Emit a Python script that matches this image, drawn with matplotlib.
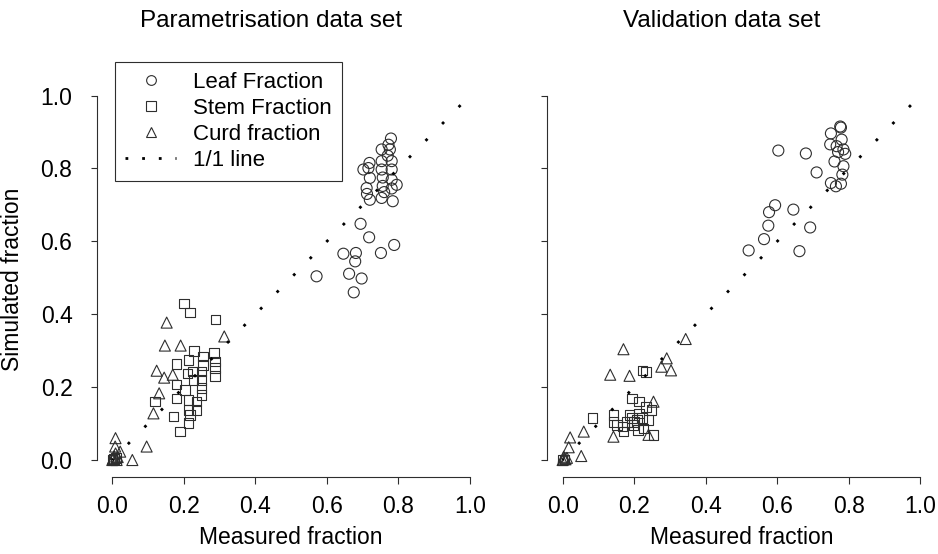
import numpy as np
import matplotlib.pyplot as plt
from matplotlib.lines import Line2D

plt.rcParams['font.family'] = ['Liberation Sans', 'DejaVu Sans']

# parametrisation data set (measured, simulated)
par_leaf_x = [0.779, 0.772, 0.753, 0.776, 0.770, 0.719, 0.753, 0.781, 0.702, 0.753,
              0.781, 0.720, 0.756, 0.781, 0.795, 0.711, 0.756, 0.781, 0.720, 0.753,
              0.784, 0.712, 0.760, 0.716,
              0.571, 0.646, 0.662, 0.675, 0.679, 0.681, 0.694, 0.697, 0.718, 0.751, 0.788]
par_leaf_y = [0.882, 0.865, 0.852, 0.852, 0.835, 0.815, 0.820, 0.820, 0.797, 0.797,
              0.797, 0.774, 0.775, 0.769, 0.755, 0.746, 0.752, 0.745, 0.714, 0.719,
              0.710, 0.730, 0.735, 0.801,
              0.504, 0.566, 0.511, 0.460, 0.545, 0.568, 0.648, 0.498, 0.611, 0.568, 0.590]

par_stem_x = [0.200, 0.217, 0.288, 0.229, 0.285, 0.180, 0.213, 0.254, 0.287, 0.287,
              0.287, 0.179, 0.225, 0.250, 0.227, 0.250, 0.203, 0.250, 0.250, 0.120,
              0.180, 0.213, 0.236, 0.213, 0.236, 0.171, 0.217, 0.213, 0.189, 0.254,
              0.210, 0.000, 0.005, 0.010]
par_stem_y = [0.429, 0.405, 0.385, 0.299, 0.293, 0.263, 0.275, 0.284, 0.270, 0.252,
              0.231, 0.207, 0.243, 0.243, 0.220, 0.220, 0.192, 0.197, 0.179, 0.160,
              0.169, 0.165, 0.160, 0.137, 0.137, 0.119, 0.124, 0.101, 0.078, 0.261,
              0.238, 0.000, 0.003, 0.005]

par_curd_x = [0.152, 0.147, 0.191, 0.313, 0.124, 0.145, 0.169, 0.131, 0.115, 0.009,
              0.008, 0.009, 0.022, 0.003, 0.012, 0.056, 0.096, 0.000, 0.005, 0.015, 0.002]
par_curd_y = [0.377, 0.314, 0.314, 0.339, 0.245, 0.226, 0.234, 0.183, 0.128, 0.060,
              0.037, 0.018, 0.023, 0.005, 0.000, 0.000, 0.037, 0.000, 0.010, 0.008, 0.002]

# validation data set
val_leaf_x = [0.776, 0.778, 0.750, 0.603, 0.680, 0.748, 0.780, 0.766, 0.785, 0.760,
              0.785, 0.710, 0.782, 0.750, 0.778, 0.764, 0.594, 0.577, 0.645, 0.575,
              0.692, 0.563, 0.520, 0.662, 0.770, 0.790]
val_leaf_y = [0.915, 0.912, 0.896, 0.849, 0.841, 0.866, 0.879, 0.861, 0.852, 0.819,
              0.806, 0.789, 0.783, 0.760, 0.758, 0.751, 0.699, 0.680, 0.687, 0.643,
              0.638, 0.606, 0.575, 0.573, 0.845, 0.840]

val_stem_x = [0.223, 0.233, 0.194, 0.214, 0.233, 0.249, 0.240, 0.254, 0.084, 0.142,
              0.142, 0.152, 0.168, 0.180, 0.194, 0.198, 0.208, 0.214, 0.222, 0.210,
              0.226, 0.170, 0.200, 0.187, 0.000, 0.005]
val_stem_y = [0.245, 0.241, 0.169, 0.160, 0.146, 0.137, 0.110, 0.069, 0.115, 0.124,
              0.105, 0.096, 0.092, 0.105, 0.115, 0.096, 0.110, 0.128, 0.115, 0.082,
              0.087, 0.078, 0.105, 0.124, 0.000, 0.002]

val_curd_x = [0.170, 0.344, 0.133, 0.187, 0.291, 0.276, 0.303, 0.254, 0.240, 0.142,
              0.059, 0.021, 0.017, 0.052, 0.003, 0.000, 0.008, 0.012, 0.004]
val_curd_y = [0.304, 0.332, 0.234, 0.231, 0.279, 0.256, 0.246, 0.160, 0.069, 0.064,
              0.078, 0.062, 0.035, 0.011, 0.009, 0.000, 0.002, 0.006, 0.004]

one_to_one = [0, 1]
ticks = [0.0, 0.2, 0.4, 0.6, 0.8, 1.0]

ink = '#2e2e2e'
fs = 16.5

fig = plt.figure(figsize=(9.38, 5.54), dpi=100)
ax1 = fig.add_axes([0.1031, 0.1395, 0.4146, 0.7144])
ax2 = fig.add_axes([0.5832, 0.1395, 0.4146, 0.7144])

panels = [
    (ax1, par_leaf_x, par_leaf_y, par_stem_x, par_stem_y, par_curd_x, par_curd_y),
    (ax2, val_leaf_x, val_leaf_y, val_stem_x, val_stem_y, val_curd_x, val_curd_y),
]

for ax, lx, ly, sx, sy, cx, cy in panels:
    ax.plot(one_to_one, one_to_one, color='black', lw=2,
            linestyle=(0.5, (1, 7.5)), zorder=3)
    ax.scatter(lx, ly, s=63, marker='o', facecolors='none', edgecolors=ink, linewidths=0.8)
    ax.scatter(sx, sy, s=47, marker='s', facecolors='none', edgecolors=ink, linewidths=0.8)
    ax.scatter(cx, cy, s=63, marker='^', facecolors='none', edgecolors=ink, linewidths=0.8)

    ax.set_xlim(-0.0436, 1.0436)
    ax.set_ylim(-0.0458, 1.04)
    for side in ['top', 'right']:
        ax.spines[side].set_visible(False)
    for side in ['left', 'bottom']:
        ax.spines[side].set_bounds(0, 1)
        ax.spines[side].set_color(ink)
        ax.spines[side].set_linewidth(0.8)
    ax.set_xticks(ticks)
    ax.set_yticks(ticks)
    ax.set_xticklabels([f'{t:.1f}' for t in ticks])
    ax.tick_params(axis='x', length=5, width=0.8, color=ink, pad=8, labelsize=fs)
    ax.tick_params(axis='y', length=4.5, width=0.8, color=ink, pad=13, labelsize=fs)
    ax.set_xlabel('Measured fraction', fontsize=fs, labelpad=6)

ax1.set_yticklabels([f'{t:.1f}' for t in ticks])
ax2.set_yticklabels([])
ax1.set_ylabel('Simulated fraction', fontsize=fs, labelpad=12)

fig.text(271 / 938, 1 - 21 / 554, 'Parametrisation data set', fontsize=17.5,
         ha='center', va='center')
fig.text(722 / 938, 1 - 21 / 554, 'Validation data set', fontsize=17.5,
         ha='center', va='center')

handles = [
    Line2D([], [], ls='none', marker='o', ms=7, mfc='none', mec=ink, mew=0.8),
    Line2D([], [], ls='none', marker='s', ms=6.5, mfc='none', mec=ink, mew=0.8),
    Line2D([], [], ls='none', marker='^', ms=7, mfc='none', mec=ink, mew=0.8),
    Line2D([], [], color='black', lw=2, linestyle=(0, (1, 5))),
]
labels = ['Leaf Fraction', 'Stem Fraction', 'Curd fraction', '1/1 line']
leg = fig.legend(handles, labels, loc='upper left',
                 bbox_to_anchor=(115 / 938, 1 - 62 / 554),
                 bbox_transform=fig.transFigure, fontsize=fs - 0.5,
                 frameon=True, fancybox=False, edgecolor=ink, framealpha=1,
                 borderpad=0.45, borderaxespad=0, handlelength=2.3,
                 handletextpad=0.75, labelspacing=0.22)
leg.get_frame().set_linewidth(0.8)

fig.savefig('out.png', dpi=100)
